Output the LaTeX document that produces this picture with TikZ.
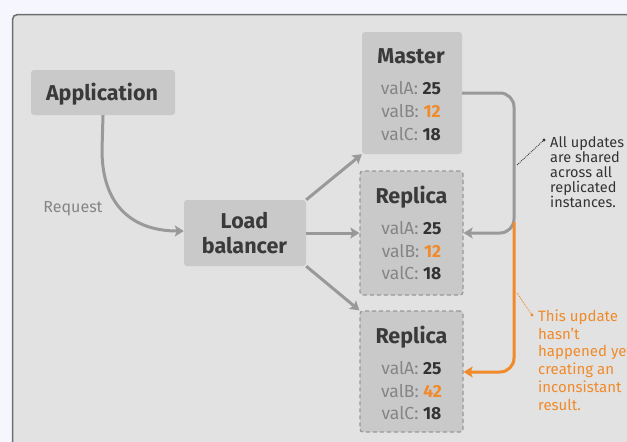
\documentclass[tikz,border=0pt]{standalone}
\usepackage{fontspec}
\setmainfont{Fira Sans}
\usetikzlibrary{arrows.meta}
\definecolor{bgc}{HTML}{F5F6FE}
\definecolor{panelc}{HTML}{E2E2E2}
\definecolor{panelb}{HTML}{6E6E6E}
\definecolor{boxc}{HTML}{C9C9C9}
\definecolor{dashc}{HTML}{999999}
\definecolor{linec}{HTML}{999999}
\definecolor{orangec}{HTML}{F08A2A}
\definecolor{titlec}{HTML}{3A3A3A}
\definecolor{labc}{HTML}{858585}
\definecolor{numc}{HTML}{333333}
\tikzset{
  box/.style={fill=boxc, draw=none, rounded corners=3pt, inner sep=0pt},
  dbox/.style={box, draw=dashc, line width=1.3pt, dash pattern=on 4pt off 3pt},
  ttl/.style={text=titlec, font=\fontsize{21.5}{25}\selectfont\bfseries, inner sep=0pt, anchor=base},
  val/.style={font=\fontsize{17.5}{20}\selectfont, inner sep=0pt, anchor=base},
  conn/.style={draw=linec, line width=3pt, -{Stealth[length=9pt,width=11pt,inset=2pt]}},
  oconn/.style={draw=orangec, line width=3pt, -{Stealth[length=9pt,width=11pt,inset=2pt]}},
  note/.style={align=left, anchor=base west, inner sep=0pt},
  dotline/.style={densely dotted, line width=0.9pt}
}
\newcommand{\valline}[2]{{\color{labc}#1} {\color{numc}\bfseries #2}}
\begin{document}
\begin{tikzpicture}[x=1pt,y=-1pt]
\clip (0,0) rectangle (627,442);
\fill[bgc] (0,0) rectangle (627,442);
\draw[fill=panelc, draw=panelb, line width=1.5pt, rounded corners=5pt] (12.5,14.5) rectangle (660,470);

% boxes
\node[box, minimum width=144pt, minimum height=45pt] (app) at (103,92.5) {};
\node[ttl] (appt) at (102,100) {Application};
\node[box, minimum width=122pt, minimum height=66pt] (lb) at (245,233) {};
\node[ttl] (lbt1) at (244.5,228) {Load};
\node[ttl] (lbt2) at (244.5,253) {balancer};

\node[box, minimum width=100pt, minimum height=122pt] (m) at (412,93) {};
\node[ttl] (mt) at (411,63) {Master};
\node[val] (m1) at (411,94) {\valline{valA:}{25}};
\node[val] (m2) at (411,117) {\valline{valB:}{\color{orangec}12}};
\node[val] (m3) at (411,140) {\valline{valC:}{18}};

\node[dbox, minimum width=103pt, minimum height=124pt] (r1) at (411.5,233) {};
\node[ttl] (r1t) at (411.5,203) {Replica};
\node[val] (r11) at (411.5,234) {\valline{valA:}{25}};
\node[val] (r12) at (411.5,257) {\valline{valB:}{\color{orangec}12}};
\node[val] (r13) at (411.5,279.5) {\valline{valC:}{18}};

\node[dbox, minimum width=103pt, minimum height=121pt] (r2) at (411.5,371.5) {};
\node[ttl] (r2t) at (411.5,343) {Replica};
\node[val] (r21) at (411.5,374) {\valline{valA:}{25}};
\node[val] (r22) at (411.5,397) {\valline{valB:}{\color{orangec}42}};
\node[val] (r23) at (411.5,419) {\valline{valC:}{18}};

% request
\node[font=\fontsize{16}{18}\selectfont, text=labc, inner sep=0pt, anchor=base] (req) at (73,212) {Request};
\draw[conn] (app.south) -- (102,150) .. controls (102,208) and (135,231) .. (lb.west |- 0,231);

% lb outgoing
\draw[conn] (lb.north east) -- (m.south west);
\draw[conn] (lb.east) -- (r1.west);
\draw[conn] (lb.south east) -- (r2.north west);

% master to replica
\coordinate (c1) at (514,93);
\coordinate (c2) at (514,233);
\draw[conn, rounded corners=14pt] (m.east |- 0,93) -- (c1) -- (c2) -- (r1.east);
\coordinate (c3) at (514,222);
\coordinate (c4) at (514,372);
\draw[oconn, rounded corners=14pt] (c3) -- (c4) -- (r2.east |- 0,372);

% annotations
\coordinate (a1) at (517,165);
\coordinate (a2) at (544,140);
\draw[dotline, draw=numc] (a1) -- (a2);
\fill[numc] (a2) circle (1.6pt);
\node[note, text=numc, font=\fontsize{14.5}{15}\selectfont] (n1) at (550,207) {All updates\\are shared\\across all\\replicated\\instances.};

\coordinate (b1) at (517,293);
\coordinate (b2) at (532,315);
\draw[dotline, draw=orangec] (b1) -- (b2);
\fill[orangec] (b2) circle (1.6pt);
\node[note, text=orangec, font=\fontsize{15}{17.7}\selectfont] (n2) at (538,410) {This update\\hasn't\\happened yet\\creating an\\inconsistant\\result.};
\end{tikzpicture}
\end{document}
